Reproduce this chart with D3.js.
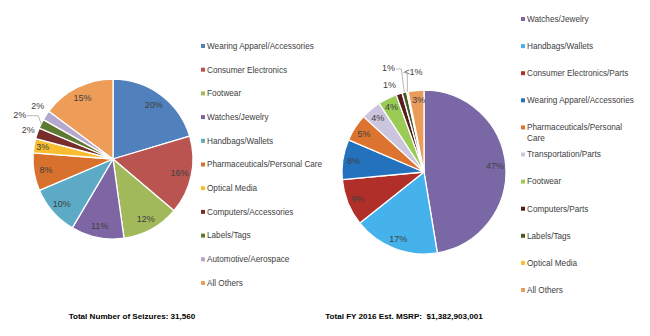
<!DOCTYPE html>
<html><head><meta charset="utf-8">
<script src="https://cdn.jsdelivr.net/npm/d3@7"></script>
<style>
body{margin:0;background:#fff;}
svg text{font-family:"Liberation Sans",Arial,sans-serif;}
</style></head>
<body>
<svg id="c" width="650" height="336"></svg>
<script>
// ---- Data ----
const seizureCategories = ["Wearing Apparel/Accessories","Consumer Electronics","Footwear","Watches/Jewelry","Handbags/Wallets","Pharmaceuticals/Personal Care","Optical Media","Computers/Accessories","Labels/Tags","Automotive/Aerospace","All Others"];
const seizureValues = [20.4,15.8,11.6,10.7,10.1,7.6,2.9,2.2,1.9,2.0,14.8];
const seizureColors = ["#5181BD","#BA5451","#A2B95B","#7D66A3","#5CAAC6","#D8712E","#F8BE30","#772E2B","#5E7A32","#B4A8CF","#EE9D58"];

const msrpCategories = ["Watches/Jewelry","Handbags/Wallets","Consumer Electronics/Parts","Wearing Apparel/Accessories","Pharmaceuticals/Personal Care","Transportation/Parts","Footwear","Computers/Parts","Labels/Tags","Optical Media","All Others"];
const msrpValues = [47.4,16.9,9.2,7.9,5.4,4.0,3.7,1.2,0.9,0.3,3.1];
const msrpColors = ["#7A68A6","#45B2EC","#B12F29","#2471BD","#DC7430","#CBC5DE","#9ACB55","#561C1E","#4A5C24","#F6C02F","#EC9C5A"];

const leftTitle = "Total Number of Seizures: 31,560";
const rightTitle = "Total FY 2016 Est. MSRP:  $1,382,903,001";

// ---- Layout (label placement: radius factor, angle offset in degrees, leader) ----
const leftLabelPos = [[0.85,0],[0.85,0],[0.85,0],[0.85,0],[0.85,0],[0.85,0],[0.89,0],[1.12,0],[1.29,-0.7,true],[1.15,2],[0.85,0]];
const rightLabelPos = [[0.87,0],[0.87,0],[0.87,0],[0.87,0],[0.87,0],[0.87,0],[0.89,0],[1.14,-4],[1.34,-5,true],[1.23,5.6,true],[0.88,1.5]];

const svg = d3.select("#c");
const pct = v => v < 0.5 ? "<1%" : Math.round(v) + "%";

function drawPie(values, colors, pos, cx, cy, r){
  const g = svg.append("g").attr("transform",`translate(${cx},${cy})`);
  const pie = d3.pie().sort(null).value(d=>d)(values);
  const arc = d3.arc().innerRadius(0).outerRadius(r);
  g.selectAll("path.s").data(pie).join("path").attr("class","s")
    .attr("d",arc).attr("fill",(d,i)=>colors[i])
    .attr("stroke","#fff").attr("stroke-width",1.3).attr("stroke-linejoin","round");
  pie.forEach((d,i)=>{
    const [f,da,leader] = pos[i];
    const mid = (d.startAngle+d.endAngle)/2;
    const a = mid + da*Math.PI/180;
    const lx = Math.sin(a)*r*f, ly = -Math.cos(a)*r*f;
    const t = g.append("text").attr("x",lx).attr("y",ly).attr("dy","0.35em")
      .attr("text-anchor","middle").attr("font-size",9).attr("fill","#404040").text(pct(values[i]));
    if(leader){
      const ex = Math.sin(mid)*r, ey = -Math.cos(mid)*r;
      const w = t.node().getComputedTextLength();
      const sx = ex > lx ? lx + w/2 + 1 : lx - w/2 - 1;
      const sy = ly + 1;
      g.append("polyline").attr("points",`${sx},${sy} ${ex + (ex>lx?-3:0)},${sy} ${ex},${ey}`)
        .attr("fill","none").attr("stroke","#a6a6a6").attr("stroke-width",0.8);
    }
  });
}

function drawLegend(cats, colors, x, y0, step, maxW){
  const g = svg.append("g");
  cats.forEach((c,i)=>{
    const y = y0 + i*step;
    g.append("rect").attr("x",x).attr("y",y-2).attr("width",4).attr("height",4).attr("fill",colors[i]);
    const t = g.append("text").attr("x",x+6).attr("y",y).attr("dy","0.35em")
      .attr("font-size",8.2).attr("fill","#404040").text(c);
    if(maxW && t.node().getComputedTextLength() > maxW){
      const parts = c.split(" ");
      t.text(parts.slice(0,-1).join(" "));
      g.append("text").attr("x",x+6).attr("y",y+11).attr("dy","0.35em")
        .attr("font-size",8.2).attr("fill","#404040").text(parts[parts.length-1]);
    }
  });
}

drawPie(seizureValues, seizureColors, leftLabelPos, 113, 159, 80);
drawPie(msrpValues, msrpColors, rightLabelPos, 424, 172, 82);
drawLegend(seizureCategories, seizureColors, 201, 46, 23.7, 0);
drawLegend(msrpCategories, msrpColors, 521, 19, 27.1, 115);

svg.append("text").attr("x",132).attr("y",316).attr("dy","0.35em").attr("text-anchor","middle")
  .attr("font-size",8.1).attr("font-weight","bold").attr("fill","#000").text(leftTitle);
svg.append("text").attr("x",404).attr("y",316).attr("dy","0.35em").attr("text-anchor","middle")
  .attr("font-size",8.1).attr("font-weight","bold").attr("fill","#000").style("white-space","pre").text(rightTitle);
</script>
</body></html>
